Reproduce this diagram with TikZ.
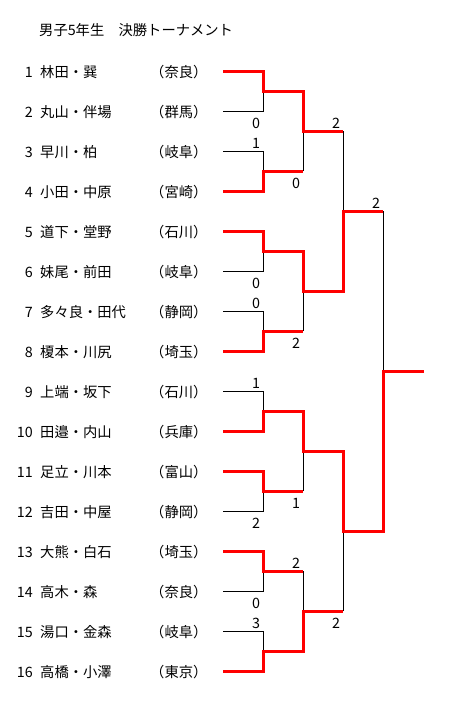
\documentclass[tikz,border=0pt]{standalone}
\usepackage{fontspec}
\setmainfont{Noto Sans CJK JP}
\usetikzlibrary{calc}

\begin{document}
\begin{tikzpicture}[x=1pt, y=-1pt, font=\fontsize{14.3}{16}\selectfont,
    loss/.style={black, line width=0.8pt},
    win/.style={red, line width=3pt},
    lbl/.style={inner sep=0pt}]
    \fill[white] (0,0) rectangle (464,712);
    \useasboundingbox (0,0) rectangle (464,712);

    \node[lbl, anchor=west] (title) at (39,30) {男子5年生　決勝トーナメント};

    % entrants
    \foreach \i/\nm/\pf in {1/林田・巽/奈良, 2/丸山・伴場/群馬, 3/早川・柏/岐阜,
        4/小田・中原/宮崎, 5/道下・堂野/石川, 6/妹尾・前田/岐阜, 7/多々良・田代/静岡,
        8/榎本・川尻/埼玉, 9/上端・坂下/石川, 10/田邉・内山/兵庫, 11/足立・川本/富山,
        12/吉田・中屋/静岡, 13/大熊・白石/埼玉, 14/高木・森/奈良, 15/湯口・金森/岐阜,
        16/高橋・小澤/東京} {
        \coordinate (e\i) at (223,{31+40*\i});
        \node[lbl, anchor=east] (no\i) at (33,{32+40*\i}) {\i};
        \node[lbl, anchor=west] (nm\i) at (40,{32+40*\i}) {\nm};
        \node[lbl, anchor=west] (pf\i) at (150,{32+40*\i}) {（\pf）};
    }

    % junctions
    \foreach \k in {1,...,8} \coordinate (A\k) at (263,{11+80*\k});
    \foreach \k in {1,...,4} \coordinate (B\k) at (303,{-29+160*\k});
    \foreach \k in {1,2} \coordinate (C\k) at (343,{-109+320*\k});
    \coordinate (D) at (383,371);
    \coordinate (F) at (424,371);

    % losers
    \draw[loss] (e2) -| (A1) (e3) -| (A2) (e6) -| (A3) (e7) -| (A4)
        (e9) -| (A5) (e12) -| (A6) (e14) -| (A7) (e15) -| (A8);
    \draw[loss] (A2 -| B1) -- (B1) (A4 -| B2) -- (B2)
        (A6 -| B3) -- (B3) (A7 -| B4) -- (B4);
    \draw[loss] (B1 -| C1) -- (C1) (B4 -| C2) -- (C2) (C1 -| D) -- (D);

    % winners
    \draw[win] (e1) -| (A1) -| (B1) -- (B1 -| C1);
    \draw[win] (e4) -| (A2) -- (A2 -| B1);
    \draw[win] (e5) -| (A3) -| (B2) -| (C1) -- (C1 -| D);
    \draw[win] (e8) -| (A4) -- (A4 -| B2);
    \draw[win] (e10) -| (A5) -| (B3) -| (C2) -| (D) -- (F);
    \draw[win] (e11) -| (A6) -- (A6 -| B3);
    \draw[win] (e13) -| (A7) -- (A7 -| B4);
    \draw[win] (e16) -| (A8) -| (B4) -- (B4 -| C2);

    % scores
    \foreach \s/\sx/\sy [count=\c] in {0/256/123, 1/256/143, 2/336/123, 0/296/183,
        2/376/203, 0/256/283, 0/256/303, 2/296/343, 1/256/383, 2/256/523,
        1/296/503, 2/296/563, 0/256/603, 3/256/623, 2/336/623}
        \node[lbl] (sc\c) at (\sx,\sy) {\s};
\end{tikzpicture}
\end{document}
